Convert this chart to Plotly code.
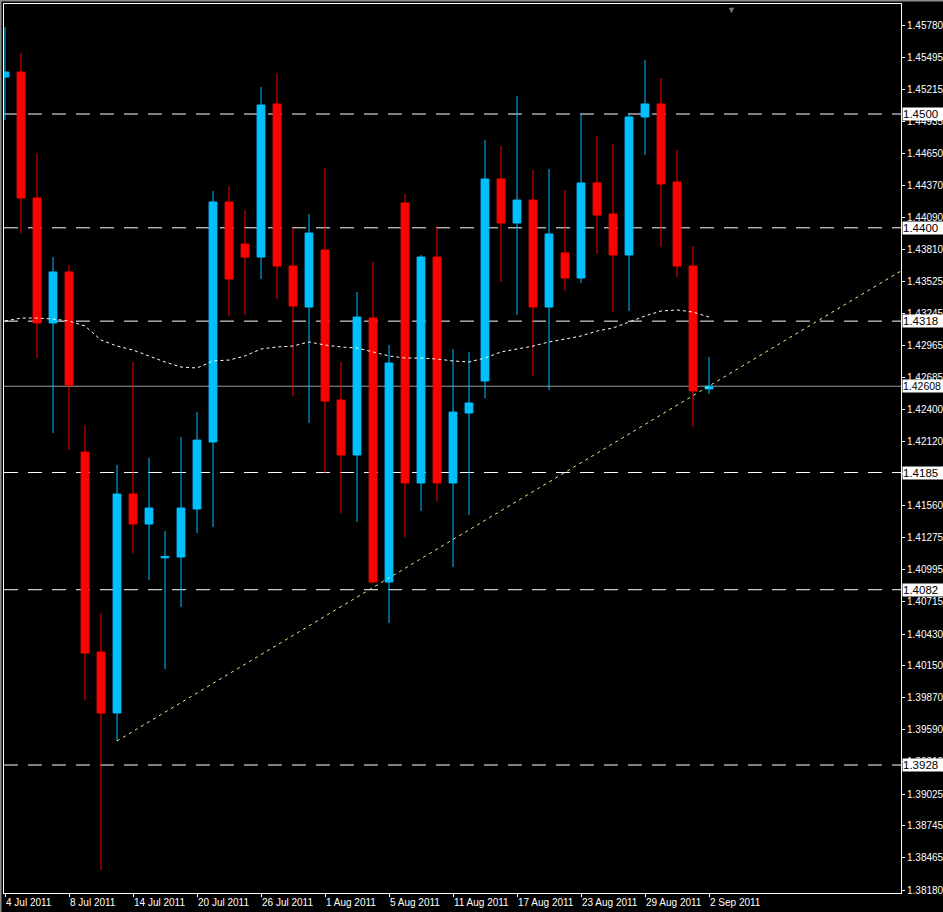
import plotly.graph_objects as go

# ---- data (EUR/USD daily, 4 Jul 2011 - 2 Sep 2011) ----
dates = ["2011-07-04", "2011-07-05", "2011-07-06", "2011-07-07", "2011-07-08",
         "2011-07-11", "2011-07-12", "2011-07-13", "2011-07-14", "2011-07-15",
         "2011-07-18", "2011-07-19", "2011-07-20", "2011-07-21", "2011-07-22",
         "2011-07-25", "2011-07-26", "2011-07-27", "2011-07-28", "2011-07-29",
         "2011-08-01", "2011-08-02", "2011-08-03", "2011-08-04", "2011-08-05",
         "2011-08-08", "2011-08-09", "2011-08-10", "2011-08-11", "2011-08-12",
         "2011-08-15", "2011-08-16", "2011-08-17", "2011-08-18", "2011-08-19",
         "2011-08-22", "2011-08-23", "2011-08-24", "2011-08-25", "2011-08-26",
         "2011-08-29", "2011-08-30", "2011-08-31", "2011-09-01", "2011-09-02"]

opens = [1.45325, 1.45369, 1.44262, 1.43164, 1.43612,
         1.42030, 1.40273, 1.39737, 1.41661, 1.41397,
         1.41100, 1.41107, 1.41529, 1.42118, 1.44227,
         1.43858, 1.43743, 1.45088, 1.43664, 1.43304,
         1.43805, 1.42487, 1.42004, 1.43207, 1.40888,
         1.44218, 1.41758, 1.43743, 1.41758, 1.42373,
         1.42654, 1.44429, 1.44042, 1.44244, 1.43304,
         1.43779, 1.43559, 1.44394, 1.44121, 1.43761,
         1.44974, 1.45088, 1.44402, 1.43664, 1.42584]
highs = [1.45764, 1.45536, 1.44657, 1.43743, 1.43673,
         1.42267, 1.40615, 1.41916, 1.42821, 1.41977,
         1.41336, 1.42162, 1.42381, 1.44323, 1.44367,
         1.44156, 1.45237, 1.45360, 1.43998, 1.44121,
         1.44525, 1.42821, 1.43436, 1.43700, 1.42970,
         1.44297, 1.43761, 1.44016, 1.42935, 1.42909,
         1.44772, 1.44719, 1.45158, 1.44508, 1.44517,
         1.44332, 1.45000, 1.44807, 1.44736, 1.45009,
         1.45474, 1.45316, 1.44684, 1.43840, 1.42865]
lows = [1.44947, 1.43954, 1.42856, 1.42197, 1.42048,
        1.39851, 1.38357, 1.39491, 1.41142, 1.40905,
        1.40123, 1.40668, 1.41318, 1.41371, 1.43225,
        1.43234, 1.43550, 1.43374, 1.42522, 1.42285,
        1.41845, 1.41494, 1.41415, 1.40879, 1.40527,
        1.41283, 1.41512, 1.41599, 1.41019, 1.41476,
        1.42504, 1.43524, 1.43234, 1.42698, 1.42575,
        1.43445, 1.43515, 1.43770, 1.43260, 1.43269,
        1.44640, 1.43831, 1.43568, 1.42250, 1.42540]
closes = [1.45369, 1.44262, 1.43164, 1.43612, 1.42619,
          1.40264, 1.39737, 1.41661, 1.41397, 1.41538,
          1.41112, 1.41538, 1.42135, 1.44227, 1.43550,
          1.43743, 1.45079, 1.43664, 1.43313, 1.43954,
          1.42478, 1.42004, 1.43216, 1.40888, 1.42812,
          1.41758, 1.43743, 1.41758, 1.42381, 1.42461,
          1.44429, 1.44042, 1.44244, 1.43304, 1.43946,
          1.43559, 1.44394, 1.44112, 1.43761, 1.44974,
          1.45088, 1.44385, 1.43664, 1.42566, 1.42608]

moving_avg = [1.43181, 1.43207, 1.43207, 1.43199, 1.43181,
              1.43137, 1.43014, 1.42961, 1.42926, 1.42874,
              1.42821, 1.42777, 1.42768, 1.42830, 1.42838,
              1.42874, 1.42935, 1.42953, 1.42961, 1.42997,
              1.42970, 1.42953, 1.42944, 1.42909, 1.42874,
              1.42856, 1.42856, 1.42847, 1.42830, 1.42821,
              1.42856, 1.42909, 1.42935, 1.42961, 1.42997,
              1.43023, 1.43049, 1.43093, 1.43120, 1.43172,
              1.43225, 1.43269, 1.43278, 1.43260, 1.43216]

trend_x = [7, 56]
trend_y = [1.39491, 1.43621]

level_prices = [1.4500, 1.4400, 1.4318, 1.4185, 1.4082, 1.3928]
level_labels = ["1.4500", "1.4400", "1.4318", "1.4185", "1.4082", "1.3928"]
current_price = 1.42608
current_label = "1.42608"

x_tick_idx = [0, 4, 8, 12, 16, 20, 24, 28, 32, 36, 40, 44]
x_tick_text = ["4 Jul 2011", "8 Jul 2011", "14 Jul 2011", "20 Jul 2011", "26 Jul 2011",
               "1 Aug 2011", "5 Aug 2011", "11 Aug 2011", "17 Aug 2011", "23 Aug 2011",
               "29 Aug 2011", "2 Sep 2011"]

y_tick_text = ["1.45780", "1.45495", "1.45215", "1.44935", "1.44650", "1.44370", "1.44090",
               "1.43810", "1.43525", "1.43245", "1.42965", "1.42685", "1.42400", "1.42120",
               "1.41840", "1.41560", "1.41275", "1.40995", "1.40715", "1.40430", "1.40150",
               "1.39870", "1.39590", "1.39310", "1.39025", "1.38745", "1.38465", "1.38180"]
y_tick_vals = [float(t) for t in y_tick_text]

# ---- styling ----
UP = "#00BFFF"
DOWN = "#FF0000"
FONT = "Liberation Sans, Arial, sans-serif"
xs = list(range(len(dates)))

fig = go.Figure()

fig.add_trace(go.Scatter(
    x=xs, y=moving_avg, mode="lines",
    line=dict(color="white", width=1, dash="3px,3px"),
    hoverinfo="skip"))

fig.add_trace(go.Candlestick(
    x=xs, open=opens, high=highs, low=lows, close=closes,
    increasing=dict(line=dict(color=UP, width=1), fillcolor=UP),
    decreasing=dict(line=dict(color=DOWN, width=1), fillcolor=DOWN),
    whiskerwidth=0, text=dates))

fig.add_trace(go.Scatter(
    x=trend_x, y=trend_y, mode="lines",
    line=dict(color="#F5F57A", width=1, dash="3px,4px"),
    hoverinfo="skip"))

for p in level_prices:
    fig.add_shape(type="line", xref="paper", x0=0, x1=1, yref="y", y0=p, y1=p,
                  line=dict(color="white", width=1, dash="14px,10px"), layer="below")
fig.add_shape(type="line", xref="paper", x0=0, x1=1, yref="y", y0=current_price, y1=current_price,
              line=dict(color="#9a9a9a", width=1), layer="below")

# highlighted price labels on the right scale
labels_all = [(p, lab, 11.5) for p, lab in zip(level_prices, level_labels)] + [(current_price, current_label, 10.5)]
for p, lab, fs in labels_all:
    fig.add_annotation(x=1, xref="paper", y=p, yref="y", xanchor="left", xshift=1,
                       text=lab, showarrow=False, bgcolor="white", width=40, height=12,
                       align="left", borderpad=0,
                       font=dict(family=FONT, size=fs, color="black"))

# window frame and chart-shift marker
fig.add_shape(type="line", xref="paper", yref="paper", x0=-3.5/897, x1=-3.5/897, y0=-1, y1=1 + 4/889,
              line=dict(color="#8c8c8c", width=2))
fig.add_shape(type="line", xref="paper", yref="paper", x0=-3.5/897, x1=1 + 42/897, y0=1 + 3.5/889, y1=1 + 3.5/889,
              line=dict(color="#8c8c8c", width=2))
fig.add_annotation(x=(738 - 4) / 897, xref="paper", y=1 + 3/889, yref="paper", yanchor="top",
                   text="▼", showarrow=False, font=dict(size=9, color="#7a7a7a"))

fig.update_layout(
    width=943, height=912,
    margin=dict(l=4, r=42, t=4, b=19),
    paper_bgcolor="black", plot_bgcolor="black",
    showlegend=False,
    xaxis=dict(range=[-0.0625, 56.0], showgrid=False, zeroline=False,
               showline=True, linecolor="white", linewidth=1, mirror=True,
               ticks="outside", ticklen=3, tickcolor="white",
               tickvals=x_tick_idx, ticktext=x_tick_text, tickangle=0,
               ticklabelposition="outside right", automargin=False,
               tickfont=dict(family=FONT, size=10, color="white"),
               rangeslider=dict(visible=False)),
    yaxis=dict(side="right", range=[1.381553, 1.459665], showgrid=False, zeroline=False,
               showline=True, linecolor="white", linewidth=1, mirror=True,
               ticks="outside", ticklen=3, tickcolor="white", automargin=False,
               tickvals=y_tick_vals, ticktext=y_tick_text,
               tickfont=dict(family=FONT, size=10, color="white")),
)

fig.write_html("out.html", config={"displayModeBar": False},
               post_script="document.body.style.margin='0';document.body.style.overflow='hidden';")
